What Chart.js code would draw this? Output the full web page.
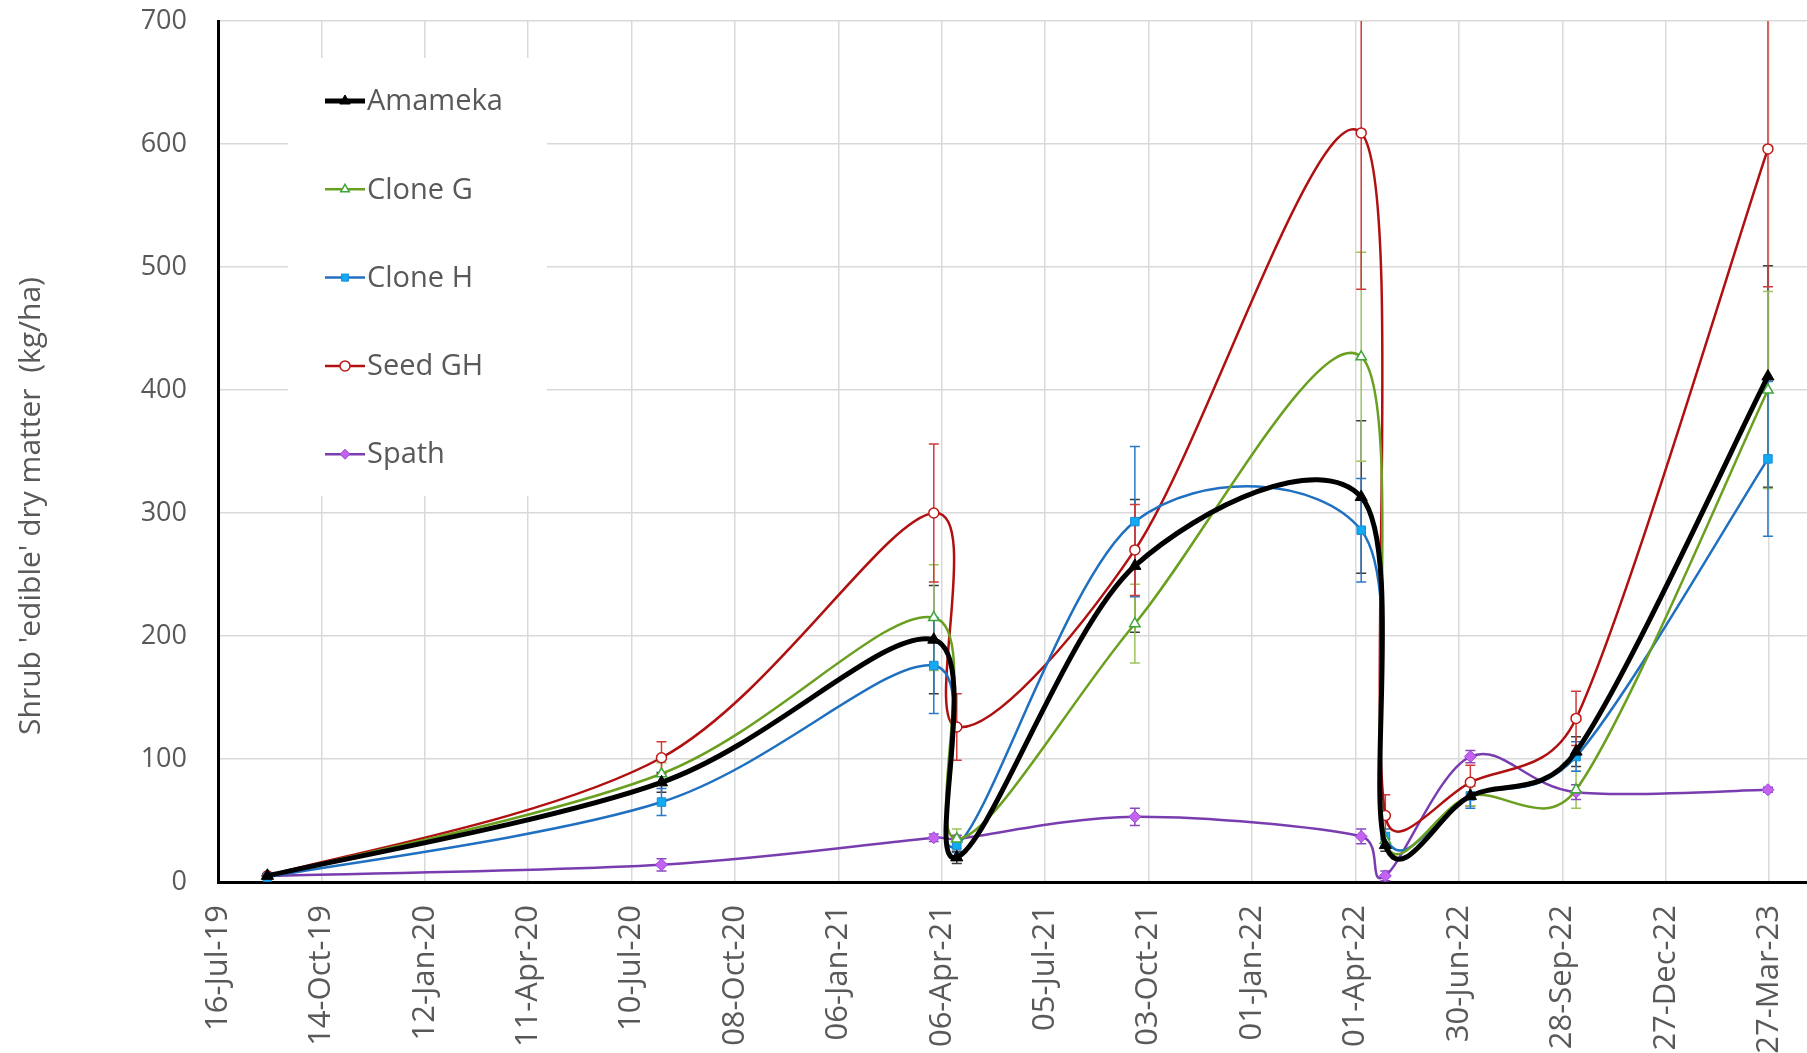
<!DOCTYPE html>
<html><head><meta charset="utf-8">
<script src="https://cdn.jsdelivr.net/npm/chart.js@4.4.1/dist/chart.umd.min.js"></script>
<style>html,body{margin:0;padding:0;background:#fff}#wrap{width:1807px;height:1053px;position:relative}</style>
</head><body><div id="wrap"><canvas id="c" width="1807" height="1053"></canvas></div>
<script>
// ---- data ----
const sampleDates = ['2019-08-28','2020-08-05','2021-03-30','2021-04-19','2021-09-21','2022-04-06','2022-04-27','2022-07-10','2022-10-10','2023-03-26'];
const seriesNames = ['Amameka','Clone G','Clone H','Seed GH','Spath'];
const amameka    = [5, 81, 197, 20, 257, 313, 30, 70, 106, 411];
const amamekaErr = [1, 8, 44, 5, 54, 62, 5, 8, 12, 90];
const cloneG     = [5, 88, 215, 35, 210, 427, 34, 70, 75, 400];
const cloneGErr  = [1, 9, 43, 8, 32, 85, 6, 8, 15, 80];
const cloneH     = [4, 65, 176, 30, 293, 286, 37, 70, 102, 344];
const cloneHErr  = [1, 11, 39, 6, 61, 42, 6, 10, 12, 63];
const seedGH     = [5, 101, 300, 126, 270, 609, 54, 81, 133, 596];
const seedGHErr  = [1, 13, 56, 27, 37, 127, 17, 14, 22, 112];
const spath      = [5, 14, 36, 35, 53, 37, 5, 102, 73, 75];
const spathErr   = [1, 5, 3, 3, 7, 6, 4, 5, 6, 2];
const tickDates  = ['2019-07-16','2019-10-14','2020-01-12','2020-04-11','2020-07-10','2020-10-08','2021-01-06','2021-04-06','2021-07-05','2021-10-03','2022-01-01','2022-04-01','2022-06-30','2022-09-28','2022-12-27','2023-03-27'];
const xRange     = ['2019-07-16','2023-04-29'];
const yTicks     = [0,100,200,300,400,500,600,700];
const yTitle     = "Shrub 'edible' dry matter  (kg/ha)";

// ---- helpers ----
const MON = ['Jan','Feb','Mar','Apr','May','Jun','Jul','Aug','Sep','Oct','Nov','Dec'];
const BASE = Date.UTC(2019,6,16);
function dayNum(s){const p=s.split('-').map(Number);return Math.round((Date.UTC(p[0],p[1]-1,p[2])-BASE)/86400000);}
function fmt(v){const d=new Date(BASE+Math.round(v)*86400000);const dd=String(d.getUTCDate()).padStart(2,'0');return dd+'-'+MON[d.getUTCMonth()]+'-'+String(d.getUTCFullYear()%100).padStart(2,'0');}
function pts(vals){return vals.map((v,i)=>({x:dayNum(sampleDates[i]),y:v}));}

const GRAY='#595959';
const datasets = [
 {label:seriesNames[0],data:pts(amameka),errors:amamekaErr,errColor:'#3a3a3a',borderColor:'#000000',borderWidth:5,pointStyle:'triangle',pointRadius:7,pointBackgroundColor:'#000000',pointBorderColor:'#000000',pointBorderWidth:1,legendRadius:6},
 {label:seriesNames[1],data:pts(cloneG),errors:cloneGErr,errColor:'#9cc35c',borderColor:'#6a9f1f',borderWidth:2.5,pointStyle:'triangle',pointRadius:6,pointBackgroundColor:'#ffffff',pointBorderColor:'#3fa83a',pointBorderWidth:1.5,legendRadius:5},
 {label:seriesNames[2],data:pts(cloneH),errors:cloneHErr,errColor:'#2a78c8',borderColor:'#1f70c0',borderWidth:2.5,pointStyle:'rect',pointRadius:6,pointBackgroundColor:'#12aaf0',pointBorderColor:'#1a8ad8',pointBorderWidth:1,legendRadius:5},
 {label:seriesNames[3],data:pts(seedGH),errors:seedGHErr,errColor:'#d03a3a',borderColor:'#b01010',borderWidth:2.5,pointStyle:'circle',pointRadius:5,pointBackgroundColor:'#ffffff',pointBorderColor:'#c01818',pointBorderWidth:1.5,legendRadius:5},
 {label:seriesNames[4],data:pts(spath),errors:spathErr,errColor:'#8a48c0',borderColor:'#7a3db0',borderWidth:2.5,pointStyle:'rectRot',pointRadius:6,pointBackgroundColor:'#c462f2',pointBorderColor:'#9a48d0',pointBorderWidth:1,legendRadius:5}
];
datasets.forEach(d=>{d.showLine=true;d.tension=0.4;d.fill=false;d.pointHoverRadius=d.pointRadius;});

// make the plot area reach the right edge of the canvas
const fixArea = {
 id:'fixArea',
 afterLayout(chart){
  const a=chart.chartArea,x=chart.scales.x,R=chart.width;
  a.right=R;a.width=R-a.left;x.right=R;x.width=R-x.left;x.configure();
 }
};

// Excel-style smoothing: control points at 1/6 of (next - prev), limited to half the segment
const excelSmooth = {
 id:'excelSmooth',
 beforeDatasetDraw(chart,args){
  const meta=args.meta,line=meta.dataset;if(!line)return;
  if(typeof line.updateControlPoints==='function')line.updateControlPoints(chart.chartArea,'x');
  const p=meta.data,n=p.length;
  const dist=(a,b)=>Math.hypot(b.x-a.x,b.y-a.y);
  for(let i=0;i<n;i++){
   const prev=p[Math.max(0,i-1)],next=p[Math.min(n-1,i+1)];
   const vx=next.x-prev.x,vy=next.y-prev.y,L=Math.hypot(vx,vy)||1;
   const dPrev=dist(prev,p[i]),dNext=dist(p[i],next);
   const fPrev=(L/6<dPrev/2)?1/6:dPrev/(2*L);
   const fNext=(L/6<dNext/2)?1/6:dNext/(2*L);
   p[i].cp1x=p[i].x-vx*fPrev;p[i].cp1y=p[i].y-vy*fPrev;
   p[i].cp2x=p[i].x+vx*fNext;p[i].cp2y=p[i].y+vy*fNext;
  }
  line._path=undefined;
 }
};

const errBars = {
 id:'errBars',
 beforeDatasetsDraw(chart){
  const ctx=chart.ctx,xs=chart.scales.x,ys=chart.scales.y,a=chart.chartArea;
  ctx.save();ctx.beginPath();ctx.rect(a.left,a.top,a.right-a.left,a.bottom-a.top);ctx.clip();
  chart.data.datasets.forEach(ds=>{
   ctx.strokeStyle=ds.errColor;ctx.lineWidth=1.5;
   ds.data.forEach((p,j)=>{
    const e=ds.errors[j];const x=xs.getPixelForValue(p.x);
    const y1=ys.getPixelForValue(p.y+e),y2=ys.getPixelForValue(p.y-e);
    ctx.beginPath();ctx.moveTo(x,y1);ctx.lineTo(x,y2);
    ctx.moveTo(x-5,y1);ctx.lineTo(x+5,y1);ctx.moveTo(x-5,y2);ctx.lineTo(x+5,y2);ctx.stroke();
   });
  });
  ctx.restore();
 }
};

const legendBox = {
 id:'legendBox',
 afterDraw(chart){
  const ctx=chart.ctx,a=chart.chartArea;
  const bx=a.left+70,by=a.top+37,bw=259,bh=438;
  ctx.save();
  ctx.fillStyle='#ffffff';ctx.fillRect(bx,by,bw,bh);
  chart.data.datasets.forEach((ds,i)=>{
   const cy=by+43+i*88.3,x0=bx+37,x1=bx+77;
   ctx.strokeStyle=ds.borderColor;ctx.lineWidth=ds.borderWidth;
   ctx.beginPath();ctx.moveTo(x0,cy);ctx.lineTo(x1,cy);ctx.stroke();
   ctx.fillStyle=ds.pointBackgroundColor;ctx.strokeStyle=ds.pointBorderColor;ctx.lineWidth=ds.pointBorderWidth;
   Chart.helpers.drawPoint(ctx,{pointStyle:ds.pointStyle,radius:ds.legendRadius,rotation:0,borderWidth:ds.pointBorderWidth},(x0+x1)/2,cy);
   ctx.fillStyle=GRAY;ctx.font="29px 'Open Sans', sans-serif";ctx.textBaseline='middle';ctx.textAlign='left';
   ctx.fillText(ds.label,x1+2,cy+1);
  });
  // y-axis title
  ctx.translate(31,506);ctx.rotate(-Math.PI/2);
  ctx.fillStyle=GRAY;ctx.font="30px 'Open Sans',sans-serif";
  ctx.textAlign='center';ctx.textBaseline='middle';
  ctx.fillText(yTitle,0,0);
  ctx.restore();
 }
};

Chart.defaults.font.family="'Open Sans', sans-serif";
new Chart(document.getElementById('c'),{
 type:'scatter',
 data:{datasets},
 plugins:[fixArea,excelSmooth,errBars,legendBox],
 options:{
  responsive:false,animation:false,devicePixelRatio:1,
  layout:{padding:{left:0,right:0,top:21,bottom:0}},
  plugins:{legend:{display:false},tooltip:{enabled:false}},
  elements:{line:{capBezierPoints:false}},
  scales:{
   x:{type:'linear',min:dayNum(xRange[0]),max:dayNum(xRange[1]),
      afterBuildTicks:(s)=>{s.ticks=tickDates.map(d=>({value:dayNum(d)}));},
      afterFit:(s)=>{s.height=171;s.paddingLeft=0;s.paddingRight=0;s.paddingTop=0;s.paddingBottom=0;},
      grid:{color:'#d9d9d9',lineWidth:1.5,drawTicks:false},
      border:{color:'#000',width:3},
      ticks:{callback:(v)=>fmt(v),minRotation:90,maxRotation:90,autoSkip:false,padding:23,color:GRAY,font:{size:31}}},
   y:{type:'linear',min:yTicks[0],max:yTicks[yTicks.length-1],
      afterBuildTicks:(s)=>{s.ticks=yTicks.map(v=>({value:v}));},
      afterFit:(s)=>{s.width=218;s.paddingLeft=0;s.paddingRight=0;s.paddingTop=0;s.paddingBottom=0;},
      grid:{color:'#d9d9d9',lineWidth:1.5,drawTicks:false},
      border:{color:'#000',width:3},
      ticks:{padding:31,color:GRAY,font:{size:27}}}
  }
 }
});
</script></body></html>
